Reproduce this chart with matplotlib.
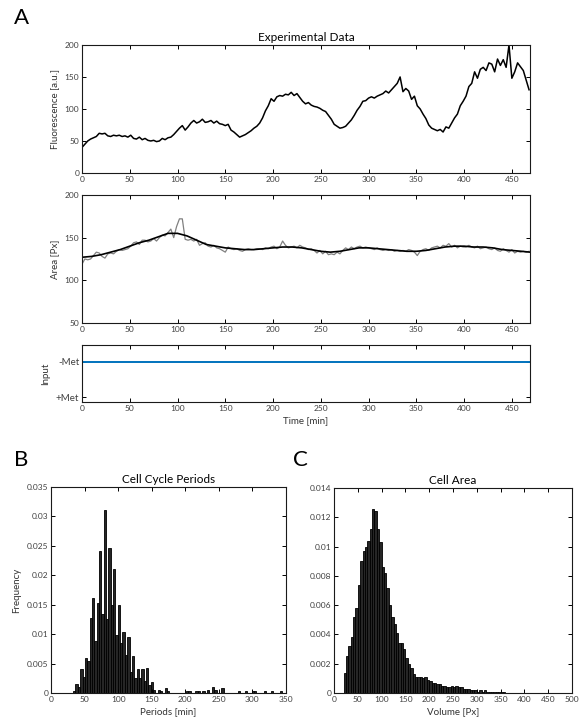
"""
Experimental data overview: fluorescence / area / input traces (A) and
histograms of cell cycle periods (B) and cell area (C).
"""
from __future__ import annotations

import matplotlib

matplotlib.use("Agg")
import matplotlib.pyplot as plt
import numpy as np
from matplotlib.ticker import FuncFormatter

OUT_PATH = "out.png"
FONT = ["Lato", "DejaVu Sans"]
TICK_COLOR = "#404040"
LABEL_COLOR = "#333333"
COLOR_TRACE = "#000000"
COLOR_RAW = "#808080"
COLOR_INPUT = "#0072BD"
COLOR_BAR = "#262626"

# ---- panel A: time traces (sampled every 3 min) ----
SAMPLE_MINUTES = 3
T_MAX = 469

fluorescence = [
    40, 45, 50, 53, 55, 57, 62, 61, 62, 58, 57, 59, 58, 59, 57, 58, 56, 59, 54, 53,
    56, 52, 54, 51, 50, 51, 49, 50, 54, 52, 55, 56, 60, 65, 70, 74, 67, 72, 78, 82,
    78, 80, 84, 79, 80, 82, 78, 81, 77, 76, 74, 76, 67, 64, 60, 56, 58, 60, 63, 66,
    70, 73, 78, 86, 97, 105, 116, 112, 119, 121, 120, 123, 122, 126, 121, 124, 118, 112, 108, 110,
    106, 104, 103, 101, 98, 96, 90, 84, 76, 73, 70, 71, 73, 78, 83, 90, 98, 104, 112, 113,
    117, 119, 117, 120, 122, 124, 128, 125, 130, 135, 140, 150, 127, 132, 128, 115, 120, 105, 100, 92,
    85, 75, 70, 68, 66, 68, 64, 72, 70, 78, 86, 92, 105, 112, 120, 135, 140, 158, 148, 162,
    165, 160, 172, 170, 158, 178, 168, 177, 165, 200, 148, 158, 172, 166, 160, 145, 130,
]

area_raw = [
    119, 125, 124, 125, 129, 133, 132, 128, 126, 131, 132, 131, 134, 136, 135, 136, 137, 140, 144, 145,
    142, 147, 147, 145, 146, 149, 146, 150, 153, 152, 156, 160, 150, 163, 172, 172, 148, 147, 148, 146,
    148, 141, 143, 144, 140, 139, 141, 138, 137, 135, 133, 139, 137, 136, 137, 135, 134, 136, 137, 136,
    136, 137, 137, 136, 138, 137, 139, 140, 137, 139, 146, 141, 138, 139, 140, 138, 141, 139, 138, 136,
    137, 135, 132, 135, 131, 134, 130, 131, 130, 133, 131, 135, 138, 136, 139, 137, 139, 140, 138, 139,
    138, 137, 136, 138, 136, 135, 136, 135, 136, 134, 135, 134, 135, 134, 136, 135, 133, 129, 134, 136,
    137, 135, 138, 139, 140, 138, 141, 140, 143, 139, 141, 138, 140, 139, 139, 141, 139, 138, 140, 137,
    138, 139, 137, 136, 138, 135, 134, 137, 135, 133, 136, 132, 134, 133, 134, 133, 134,
]

# smoothed area, one value every 10 min
area_smooth_time = [
    0, 10, 20, 30, 40, 50, 60, 70, 80, 90, 100, 110, 120, 130, 140, 150, 160, 170, 180, 190,
    200, 210, 220, 230, 240, 250, 260, 270, 280, 290, 300, 310, 320, 330, 340, 350, 360, 370, 380, 390,
    400, 410, 420, 430, 440, 450, 460, 469,
]
area_smooth = [
    127, 128, 130, 133, 136, 140, 144, 147, 151, 155, 155, 152, 147, 142, 140, 138, 137, 136, 136, 137,
    138, 139, 139, 138, 136, 134, 133, 134, 136, 138, 138, 137, 136, 135, 134, 134, 135, 137, 139, 140,
    140, 139, 139, 138, 136, 135, 134, 133,
]

input_level = 1  # -Met throughout
input_ticks = [0, 1]
input_ticklabels = ["+Met", "-Met"]

# ---- panel B: cell cycle periods histogram (bin width 3.5 min) ----
PERIOD_BIN = 3.5
period_centers = [
    34.75, 38.25, 41.75, 45.25, 48.75, 52.25, 55.75, 59.25, 62.75, 66.25,
    69.75, 73.25, 76.75, 80.25, 83.75, 87.25, 90.75, 94.25, 97.75, 101.25,
    104.75, 108.25, 111.75, 115.25, 118.75, 122.25, 125.75, 129.25, 132.75, 136.25,
    139.75, 143.25, 146.75, 150.25, 153.75, 160.75, 164.25, 171.25, 174.75,
    202.75, 206.25, 216.75, 220.25, 227.25, 234.25, 241.25, 244.75, 255.25,
    279.75, 290.25, 300.75, 304.25, 318.25, 328.75, 342.75,
]
period_freq = [
    0.0004, 0.0015, 0.0010, 0.0040, 0.0028, 0.0060, 0.0055, 0.0128, 0.0162, 0.0088,
    0.0153, 0.0242, 0.0135, 0.0311, 0.0126, 0.0246, 0.0150, 0.0210, 0.0098, 0.0150,
    0.0085, 0.0103, 0.0065, 0.0096, 0.0035, 0.0063, 0.0025, 0.0040, 0.0025, 0.0040,
    0.0020, 0.0043, 0.0013, 0.0018, 0.0005, 0.0005, 0.0003, 0.0008, 0.0003,
    0.0003, 0.0003, 0.0003, 0.0003, 0.0003, 0.0005, 0.0010, 0.0005, 0.0008,
    0.0003, 0.0003, 0.0003, 0.0003, 0.0003, 0.0003, 0.0003,
]

# ---- panel C: cell area histogram (bin width 5 px, from 20 px) ----
AREA_BIN = 5
AREA_START = 20
area_freq = [
    0.0014, 0.0025, 0.0032, 0.0038, 0.0052, 0.0058, 0.0074, 0.0090, 0.0097, 0.0100,
    0.0104, 0.0112, 0.0126, 0.0124, 0.0112, 0.0103, 0.0086, 0.0082, 0.0072, 0.0060,
    0.0052, 0.0047, 0.0041, 0.0034, 0.0034, 0.0030, 0.0024, 0.0020, 0.0017, 0.0013,
    0.0011, 0.0011, 0.0011, 0.0010, 0.0011, 0.0009, 0.0008, 0.0007, 0.0007, 0.0006,
    0.0006, 0.0005, 0.0005, 0.0004, 0.0004, 0.0005, 0.0004, 0.0005, 0.0004, 0.0004,
    0.0003, 0.0003, 0.0003, 0.0002, 0.0002, 0.0002, 0.0001, 0.0002, 0.0001, 0.0002,
    0.0001, 0.0001, 0.0001, 0.0001, 0.00005, 0.00005, 0.00005, 0.00005, 0.00003, 0.00003,
    0.00003, 0.00003, 0.00002, 0.00002, 0.00002, 0.00002, 0.00001, 0.00001, 0.00001, 0.00001,
]


def style_axes(ax: plt.Axes) -> None:
    ax.tick_params(
        direction="in", length=3, width=0.7, top=True, right=True,
        labelsize=6, colors="black", labelcolor=TICK_COLOR, pad=2,
    )
    for spine in ax.spines.values():
        spine.set_linewidth(0.8)
        spine.set_color("#1a1a1a")


def g_fmt(v, _pos):
    return f"{v:g}"


def main() -> None:
    plt.rcParams["font.family"] = FONT
    fig = plt.figure(figsize=(5.8, 7.25), dpi=100)

    t = np.arange(len(fluorescence)) * SAMPLE_MINUTES
    t_area = np.arange(len(area_raw)) * SAMPLE_MINUTES
    xticks = np.arange(0, 451, 50)

    # fluorescence
    ax1 = fig.add_axes([0.1414, 0.7614, 0.7724, 0.1766])
    ax1.plot(t, fluorescence, color=COLOR_TRACE, linewidth=1.1)
    ax1.set_xlim(0, T_MAX)
    ax1.set_ylim(0, 200)
    ax1.set_xticks(xticks)
    ax1.set_yticks(np.arange(0, 201, 50))
    ax1.set_ylabel("Fluorescence [a.u.]", fontsize=7, color=LABEL_COLOR)
    ax1.set_title("Experimental Data", fontsize=8.5, pad=3)
    style_axes(ax1)

    # area
    ax2 = fig.add_axes([0.1414, 0.5545, 0.7724, 0.1766])
    ax2.plot(t_area, area_raw, color=COLOR_RAW, linewidth=0.9)
    ax2.plot(area_smooth_time, area_smooth, color=COLOR_TRACE, linewidth=1.2)
    ax2.set_xlim(0, T_MAX)
    ax2.set_ylim(50, 200)
    ax2.set_xticks(xticks)
    ax2.set_yticks(np.arange(50, 201, 50))
    ax2.set_ylabel("Area [Px]", fontsize=7, color=LABEL_COLOR)
    style_axes(ax2)

    # input
    ax3 = fig.add_axes([0.1414, 0.4455, 0.7724, 0.0786])
    ax3.plot([0, T_MAX], [input_level, input_level], color=COLOR_INPUT, linewidth=1.4)
    ax3.set_xlim(0, T_MAX)
    ax3.set_ylim(-0.14, 1.47)
    ax3.set_xticks(xticks)
    ax3.set_yticks(input_ticks)
    ax3.set_yticklabels(input_ticklabels)
    ax3.set_ylabel("Input", fontsize=7, color=LABEL_COLOR)
    ax3.set_xlabel("Time [min]", fontsize=7, color=LABEL_COLOR, labelpad=3)
    style_axes(ax3)
    ax3.tick_params(axis="y", labelsize=7)

    # B: periods
    ax4 = fig.add_axes([0.0879, 0.0441, 0.4052, 0.2841])
    ax4.bar(period_centers, period_freq, width=PERIOD_BIN, color=COLOR_BAR,
            edgecolor="black", linewidth=0.6)
    ax4.set_xlim(0, 350)
    ax4.set_ylim(0, 0.035)
    ax4.set_xticks(np.arange(0, 351, 50))
    ax4.set_yticks(np.arange(0, 0.0351, 0.005))
    ax4.yaxis.set_major_formatter(FuncFormatter(g_fmt))
    ax4.set_title("Cell Cycle Periods", fontsize=8.5, pad=3)
    ax4.set_xlabel("Periods [min]", fontsize=7, color=LABEL_COLOR, labelpad=3)
    ax4.set_ylabel("Frequency", fontsize=7, color=LABEL_COLOR)
    style_axes(ax4)

    # C: area
    area_centers = AREA_START + AREA_BIN * (np.arange(len(area_freq)) + 0.5)
    ax5 = fig.add_axes([0.5759, 0.0441, 0.4103, 0.2828])
    ax5.bar(area_centers, area_freq, width=AREA_BIN, color=COLOR_BAR,
            edgecolor="black", linewidth=0.6)
    ax5.set_xlim(0, 500)
    ax5.set_ylim(0, 0.014)
    ax5.set_xticks(np.arange(0, 501, 50))
    ax5.set_yticks(np.arange(0, 0.0141, 0.002))
    ax5.yaxis.set_major_formatter(FuncFormatter(g_fmt))
    ax5.set_title("Cell Area", fontsize=8.5, pad=3)
    ax5.set_xlabel("Volume [Px]", fontsize=7, color=LABEL_COLOR, labelpad=3)
    style_axes(ax5)

    # panel letters
    fig.text(0.024, 0.975, "A", fontsize=16, va="center", ha="left")
    fig.text(0.024, 0.366, "B", fontsize=16, va="center", ha="left")
    fig.text(0.505, 0.366, "C", fontsize=16, va="center", ha="left")

    fig.savefig(OUT_PATH, dpi=100, facecolor="white")
    plt.close(fig)


if __name__ == "__main__":
    main()
